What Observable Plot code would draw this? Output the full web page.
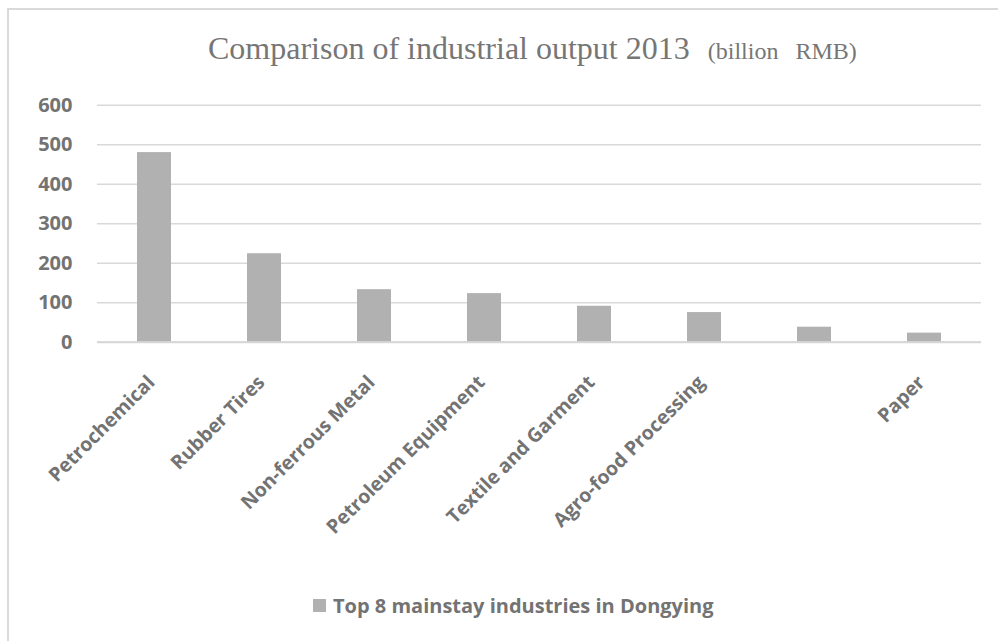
<!DOCTYPE html>
<html>
<head>
<meta charset="utf-8">
<script src="https://cdn.jsdelivr.net/npm/d3@7"></script>
<script src="https://cdn.jsdelivr.net/npm/@observablehq/plot@0.6"></script>
<style>
  html, body { margin: 0; padding: 0; background: #ffffff; }
  #wrap { position: relative; width: 998px; height: 641px; overflow: hidden; background: #ffffff; }
  #frame { position: absolute; left: 7px; top: 8px; width: 1000px; height: 700px;
           border-top: 2px solid #d9d9d9; border-left: 2px solid #d9d9d9; box-sizing: border-box; pointer-events: none; }
  #title { position: relative; height: 80px; }
  #title .t { position: absolute; left: 208px; top: 30px; white-space: nowrap;
              font-family: "Liberation Serif", "Times New Roman", serif; font-size: 32px; color: #767676; line-height: normal; }
  #title .s { font-size: 24px; margin-left: 18px; word-spacing: 11px; }
  #chart svg { display: block; }
  #legend { margin-top: 11.6px; padding-left: 313px; display: flex; align-items: center;
            font-family: "Open Sans", sans-serif; font-weight: 700; font-size: 20px; color: #737373; line-height: normal; }
  #legend .sw { width: 13px; height: 13px; background: #b1b1b1; margin-right: 7px; flex: none; }
</style>
</head>
<body>
<div id="wrap">
  <div id="frame"></div>
  <div id="title"><div class="t">Comparison of industrial output 2013<span class="s">(billion RMB)</span></div></div>
  <div id="chart"></div>
  <div id="legend"><div class="sw"></div><span id="legendText"></span></div>
</div>
<script>
const categories = ["Petrochemical", "Rubber Tires", "Non-ferrous Metal", "Petroleum Equipment",
                    "Textile and Garment", "Agro-food Processing", "", "Paper"];
const outputValues = [480, 224, 133, 123, 91, 75, 38, 23];
const yTicks = [0, 100, 200, 300, 400, 500, 600];
const seriesName = "Top 8 mainstay industries in Dongying";

const data = categories.map((c, i) => ({industry: c, output: outputValues[i]}));

const chart = Plot.plot({
  width: 998,
  height: 500,
  marginLeft: 97,
  marginRight: 17,
  marginTop: 24.7,
  marginBottom: 238.3,
  style: {fontFamily: "'Open Sans', sans-serif", fontSize: "20px", fontWeight: 700, color: "#737373", background: "transparent", overflow: "visible"},
  x: {domain: categories, paddingInner: 0.69, paddingOuter: 0.345, axis: null},
  y: {domain: [0, 600], axis: null},
  marks: [
    Plot.gridY(yTicks, {stroke: "#d9d9d9", strokeOpacity: 1, strokeWidth: 1.5}),
    Plot.axisY(yTicks, {tickSize: 0, tickPadding: 25, fontSize: 20, fontWeight: 700, fill: "#737373", label: null}),
    Plot.barY(data, {x: "industry", y: "output", fill: "#b1b1b1"}),
    Plot.ruleY([0], {stroke: "#d6d6d6", strokeWidth: 2}),
    Plot.text(categories, {x: d => d, y: () => 0, text: d => d, rotate: -45, textAnchor: "end", lineAnchor: "middle",
                           dx: -3, dy: 37, fontSize: 19.5, fontWeight: 700, fill: "#737373"})
  ]
});
document.getElementById("chart").appendChild(chart);
document.getElementById("legendText").textContent = seriesName;
</script>
</body>
</html>
